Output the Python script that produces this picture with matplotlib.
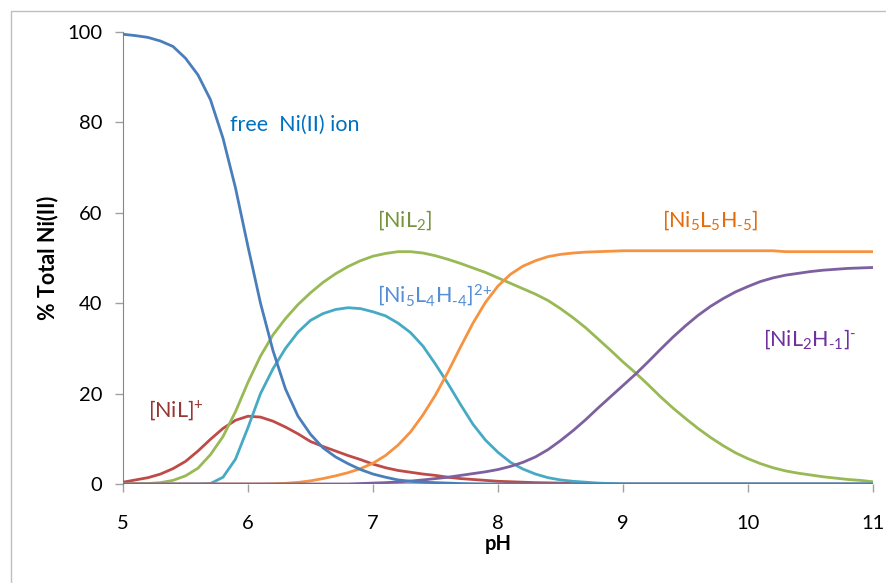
import numpy as np
import matplotlib
matplotlib.use("Agg")
import matplotlib.pyplot as plt
from matplotlib.patches import Rectangle

plt.rcParams['font.family'] = ['Lato', 'DejaVu Sans']
plt.rcParams['mathtext.fontset'] = 'custom'
plt.rcParams['mathtext.rm'] = 'Lato'
plt.rcParams['mathtext.it'] = 'Lato'

# pH grid (0.1 steps)
ph = np.round(np.arange(5.0, 11.01, 0.1), 1)

free_ni = [99.5, 99.2, 98.8, 98.0, 96.8, 94.2, 90.5, 85.0, 76.5, 65.5,
           52.5, 40.0, 29.5, 21.0, 15.0, 11.0, 8.0, 6.0, 4.5, 3.2,
           2.2, 1.5, 0.9, 0.6, 0.4, 0.3, 0.2, 0.1, 0.05, 0.02,
           0, 0, 0, 0, 0, 0, 0, 0, 0, 0,
           0, 0, 0, 0, 0, 0, 0, 0, 0, 0,
           0, 0, 0, 0, 0, 0, 0, 0, 0, 0, 0]

nil = [0.4, 0.9, 1.4, 2.2, 3.4, 5.0, 7.3, 9.9, 12.3, 14.1,
       15.0, 14.8, 13.9, 12.6, 11.1, 9.4, 8.3, 7.3, 6.3, 5.4,
       4.4, 3.6, 3.0, 2.6, 2.2, 1.9, 1.5, 1.2, 1.0, 0.8,
       0.6, 0.5, 0.4, 0.3, 0.25, 0.2, 0.1, 0.05, 0, 0,
       0, 0, 0, 0, 0, 0, 0, 0, 0, 0,
       0, 0, 0, 0, 0, 0, 0, 0, 0, 0, 0]

nil2 = [0, 0.05, 0.1, 0.3, 0.8, 1.8, 3.5, 6.5, 10.5, 16.0,
        22.5, 28.3, 33.0, 36.6, 39.7, 42.3, 44.6, 46.5, 48.1, 49.4,
        50.4, 51.0, 51.4, 51.4, 51.1, 50.5, 49.7, 48.8, 47.8, 46.8,
        45.6, 44.4, 43.2, 42.0, 40.6, 38.8, 36.8, 34.6, 32.1, 29.6,
        27.0, 24.6, 22.0, 19.3, 16.8, 14.5, 12.3, 10.3, 8.5, 6.9,
        5.6, 4.5, 3.6, 2.9, 2.4, 2.0, 1.6, 1.3, 1.0, 0.8, 0.5]

ni5l4 = [0, 0, 0, 0, 0, 0, 0, 0.1, 1.5, 5.5,
         12.5, 20.0, 25.5, 30.0, 33.6, 36.2, 37.7, 38.6, 39.0, 38.8,
         38.1, 37.2, 35.6, 33.5, 30.5, 26.5, 22.2, 17.6, 13.2, 9.7,
         7.0, 4.8, 3.3, 2.2, 1.4, 0.9, 0.6, 0.4, 0.2, 0.1,
         0, 0, 0, 0, 0, 0, 0, 0, 0, 0,
         0, 0, 0, 0, 0, 0, 0, 0, 0, 0, 0]

ni5l5 = [0, 0, 0, 0, 0, 0, 0, 0, 0, 0,
         0, 0, 0.05, 0.15, 0.35, 0.7, 1.2, 1.8, 2.5, 3.4,
         4.6, 6.3, 8.6, 11.5, 15.3, 19.7, 24.8, 30.3, 35.6, 40.2,
         43.8, 46.4, 48.2, 49.4, 50.3, 50.8, 51.1, 51.3, 51.4, 51.5,
         51.6, 51.6, 51.6, 51.6, 51.6, 51.6, 51.6, 51.6, 51.6, 51.6,
         51.6, 51.6, 51.6, 51.4, 51.4, 51.4, 51.4, 51.4, 51.4, 51.4, 51.4]

nil2h = [0, 0, 0, 0, 0, 0, 0, 0, 0, 0,
         0, 0, 0, 0, 0, 0, 0, 0, 0, 0.1,
         0.2, 0.3, 0.45, 0.65, 0.9, 1.2, 1.5, 1.9, 2.3, 2.7,
         3.2, 3.9, 4.8, 6.0, 7.6, 9.6, 11.8, 14.2, 16.8, 19.3,
         21.8, 24.3, 27.0, 29.8, 32.5, 35.0, 37.3, 39.3, 41.0, 42.5,
         43.7, 44.8, 45.6, 46.2, 46.6, 47.0, 47.3, 47.5, 47.7, 47.8, 47.9]

colors = {
    'free': '#4A7EBB',
    'nil': '#BE4B48',
    'nil2': '#98B954',
    'ni5l4': '#46AAC5',
    'ni5l5': '#F69240',
    'nil2h': '#7D60A0',
}

fig = plt.figure(figsize=(8.87, 5.83), dpi=100)
ax = fig.add_axes([123/887, 1-484/583, 750/887, 452/583])

# outer chart border
fig.patches.append(Rectangle((11/887, -0.05), 1.0, 1-11/583+0.05,
                             transform=fig.transFigure, fill=False,
                             edgecolor='#BFBFBF', linewidth=1.0))

ax.axhline(0, color='#A6A6CC', linewidth=2.2, zorder=1)

lw = 2.0
ax.plot(ph, nil, color=colors['nil'], lw=lw, zorder=3)
ax.plot(ph, nil2, color=colors['nil2'], lw=lw, zorder=3)
ax.plot(ph, ni5l4, color=colors['ni5l4'], lw=lw, zorder=3)
ax.plot(ph, ni5l5, color=colors['ni5l5'], lw=lw, zorder=3)
ax.plot(ph, nil2h, color=colors['nil2h'], lw=lw, zorder=3)
ax.plot(ph, free_ni, color=colors['free'], lw=lw, zorder=3)

ax.set_xlim(5, 11)
ax.set_ylim(0, 100)
ax.set_xticks(range(5, 12))
ax.set_yticks(range(0, 101, 20))

for s in ['top', 'right']:
    ax.spines[s].set_visible(False)
ax.spines['left'].set_color('#868686')
ax.spines['bottom'].set_visible(False)

ax.tick_params(axis='x', direction='out', length=6, width=1, color='#A0A0A0',
               labelsize=14.5, pad=16)
ax.tick_params(axis='y', direction='out', length=6, width=1, color='#A0A0A0',
               labelsize=14.5, pad=9)

ax.set_xlabel('pH', fontsize=14.5, fontweight='bold', labelpad=2)
ax.set_ylabel('% Total Ni(II)', fontsize=15.5, fontweight='bold', labelpad=6)

fs = 15.5
ax.text(5.856, 79.4, 'free  Ni(II) ion', color='#0070C0', fontsize=fs, va='center')
ax.text(7.03, 58.4, r'[NiL$_{\text{2}}$]', color='#77933C', fontsize=fs, va='center')
ax.text(7.03, 41.8, r'[Ni$_{\text{5}}$L$_{\text{4}}$H$_{\text{-4}}$]$^{\text{2+}}$',
        color='#558ED5', fontsize=fs, va='center')
ax.text(9.31, 58.4, r'[Ni$_{\text{5}}$L$_{\text{5}}$H$_{\text{-5}}$]',
        color='#E46C0A', fontsize=fs, va='center')
ax.text(10.12, 32.0, r'[NiL$_{\text{2}}$H$_{\text{-1}}$]$^{\text{-}}$',
        color='#7030A0', fontsize=fs, va='center')
ax.text(5.2, 16.4, r'[NiL]$^{\text{+}}$', color='#953735', fontsize=fs, va='center')

fig.savefig('out.png', dpi=100)
